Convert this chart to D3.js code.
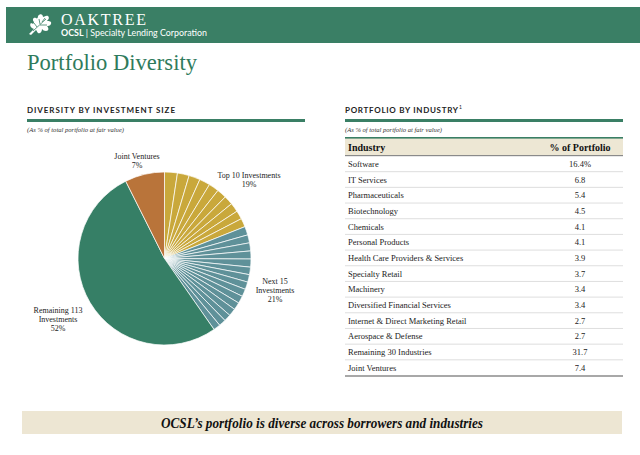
<!DOCTYPE html>
<html><head><meta charset="utf-8">
<script src="https://cdn.jsdelivr.net/npm/d3@7/dist/d3.min.js"></script>
<style>body{margin:0;background:#fff}svg{display:block}</style>
</head><body>
<svg id="c" width="640" height="455"></svg>
<script>
// ---- data ----
const sizeGroups = ["Top 10 Investments", "Next 15 Investments", "Remaining 113 Investments", "Joint Ventures"];
const groupPct = ["19%", "21%", "52%", "7%"];
const top10 = [2.4, 2.2, 2.1, 2.0, 1.9, 1.8, 1.7, 1.7, 1.6, 1.6];
const next15 = [1.6, 1.5, 1.5, 1.5, 1.5, 1.4, 1.4, 1.4, 1.4, 1.4, 1.4, 1.4, 1.3, 1.3, 1.3];
const remaining = [52.3];
const jointVentures = [7.4];
const industries = ["Software", "IT Services", "Pharmaceuticals", "Biotechnology", "Chemicals", "Personal Products",
  "Health Care Providers & Services", "Specialty Retail", "Machinery", "Diversified Financial Services",
  "Internet & Direct Marketing Retail", "Aerospace & Defense", "Remaining 30 Industries", "Joint Ventures"];
const industryPct = [16.4, 6.8, 5.4, 4.5, 4.1, 4.1, 3.9, 3.7, 3.4, 3.4, 2.7, 2.7, 31.7, 7.4];

// ---- styles ----
const green = "#3a7f65";
const serif = "'Liberation Serif','Times New Roman',serif";
const sans = "Lato,'Open Sans',sans-serif";
const groupColors = ["#c9a83b", "#5f9199", "#367f66", "#b9743a"];

const svg = d3.select("#c");

// header banner
svg.append("rect").attr("x", 6).attr("y", 7).attr("width", 634).attr("height", 36).attr("fill", green);
// oak leaf icon
const leaf = svg.append("g").attr("transform", "translate(40,25)");
leaf.append("path").attr("fill", "#fff").attr("d",
  "M-11,9 L-6,4 C-9,3 -11,0 -9,-2 C-7,-1 -6,-1 -6,-3 C-8,-5 -7,-8 -4,-7 C-3,-6 -2,-7 -2,-9 C0,-12 3,-11 3,-8 C4,-8 6,-10 8,-9 C10,-7 8,-5 7,-4 C9,-4 12,-4 11,-1 C10,1 8,1 7,1 C9,3 9,6 6,6 C4,6 3,5 2,4 C2,7 0,9 -2,8 C-3,7 -3,6 -4,5 L-9,10 Z");
leaf.append("path").attr("stroke", green).attr("stroke-width", 0.8).attr("fill", "none")
  .attr("d", "M-7,6 L6,-6 M-3,2 L-6,-2 M0,-1 L-1,-6 M2,-3 L5,-7 M0,0 L7,0");
svg.append("text").attr("x", 61).attr("y", 25).attr("fill", "#fff").attr("font-family", serif)
  .attr("font-size", 16).attr("textLength", 85).attr("lengthAdjust", "spacing").text("OAKTREE");
const sub = svg.append("text").attr("x", 61).attr("y", 36).attr("fill", "#fff").attr("font-family", sans)
  .attr("font-size", 9.3).attr("textLength", 146).attr("lengthAdjust", "spacingAndGlyphs");
sub.append("tspan").attr("font-weight", "bold").text("OCSL");
sub.append("tspan").text(" | Specialty Lending Corporation");

// title
svg.append("text").attr("x", 27).attr("y", 70).attr("fill", "#2f7b5c").attr("font-family", serif)
  .attr("font-size", 24).attr("textLength", 170).attr("lengthAdjust", "spacingAndGlyphs").text("Portfolio Diversity");

// section headers
function section(x, w, title, tlen) {
  svg.append("text").attr("x", x).attr("y", 113).attr("fill", "#222").attr("font-family", sans)
    .attr("font-size", 8).attr("font-weight", "bold").attr("textLength", tlen).attr("lengthAdjust", "spacing").text(title);
  svg.append("rect").attr("x", x).attr("y", 119).attr("width", w).attr("height", 3).attr("fill", green);
  svg.append("text").attr("x", x).attr("y", 132).attr("fill", "#333").attr("font-family", serif)
    .attr("font-size", 6.5).attr("font-style", "italic").attr("textLength", 97).attr("lengthAdjust", "spacingAndGlyphs")
    .text("(As % of total portfolio at fair value)");
}
section(27, 278, "DIVERSITY BY INVESTMENT SIZE", 148);
section(345, 278, "PORTFOLIO BY INDUSTRY", 113);
svg.append("text").attr("x", 459).attr("y", 109).attr("font-family", sans).attr("font-size", 5).attr("fill", "#222").text("1");

// ---- pie ----
const slices = [];
top10.forEach(v => slices.push({v, g: 0}));
next15.forEach(v => slices.push({v, g: 1}));
remaining.forEach(v => slices.push({v, g: 2}));
jointVentures.forEach(v => slices.push({v, g: 3}));
const pie = d3.pie().sort(null).value(d => d.v);
const arc = d3.arc().innerRadius(0).outerRadius(86.5);
const pg = svg.append("g").attr("transform", "translate(164.5,258.5)");
pg.selectAll("path").data(pie(slices)).join("path")
  .attr("d", arc).attr("fill", d => groupColors[d.data.g])
  .attr("stroke", "#fff").attr("stroke-width", 0.7).attr("stroke-linejoin", "round");

// pie labels
const pieLabels = [
  {lines: ["Top 10 Investments", groupPct[0]], x: 249, y: 178},
  {lines: ["Next 15", "Investments", groupPct[1]], x: 275, y: 284},
  {lines: ["Remaining 113", "Investments", groupPct[2]], x: 58, y: 313},
  {lines: ["Joint Ventures", groupPct[3]], x: 137, y: 159}
];
pieLabels.forEach(l => {
  const t = svg.append("text").attr("text-anchor", "middle").attr("font-family", serif)
    .attr("font-size", 8).attr("fill", "#222");
  l.lines.forEach((s, i) => t.append("tspan").attr("x", l.x).attr("y", l.y + i * 9).text(s));
});

// ---- table ----
const tx = 345, tw = 278, valX = 580;
svg.append("rect").attr("x", tx).attr("y", 138).attr("width", tw).attr("height", 17).attr("fill", "#ede7d4");
svg.append("rect").attr("x", tx).attr("y", 137).attr("width", tw).attr("height", 1.6).attr("fill", green);
svg.append("rect").attr("x", tx).attr("y", 155).attr("width", tw).attr("height", 1.2).attr("fill", "#8a8a8a");
svg.append("text").attr("x", 348).attr("y", 150.5).attr("font-family", serif).attr("font-weight", "bold")
  .attr("font-size", 10).attr("fill", "#111").text("Industry");
svg.append("text").attr("x", valX).attr("y", 150.5).attr("text-anchor", "middle").attr("font-family", serif)
  .attr("font-weight", "bold").attr("font-size", 10).attr("fill", "#111").text("% of Portfolio");

const y = d3.scaleBand().domain(industries).range([156, 375.5]);
const rows = svg.append("g").selectAll("g").data(industries).join("g")
  .attr("transform", d => `translate(0,${y(d)})`);
rows.append("text").attr("x", 348).attr("y", y.bandwidth() / 2 + 3).attr("font-family", serif)
  .attr("font-size", 8.5).attr("fill", "#222").text(d => d);
rows.append("text").attr("x", valX).attr("y", y.bandwidth() / 2 + 3).attr("text-anchor", "middle")
  .attr("font-family", serif).attr("font-size", 8.5).attr("fill", "#222")
  .text((d, i) => i === 0 ? d3.format(".1f")(industryPct[i]) + "%" : d3.format(".1f")(industryPct[i]));
rows.filter((d, i) => i < industries.length - 1).append("rect")
  .attr("x", tx).attr("y", y.bandwidth() - 0.5).attr("width", tw).attr("height", 1).attr("fill", "#dedede");
svg.append("rect").attr("x", tx).attr("y", 375).attr("width", tw).attr("height", 2).attr("fill", "#a8a8a8");

// bottom banner
svg.append("rect").attr("x", 22).attr("y", 411).attr("width", 600).attr("height", 23).attr("fill", "#ede6d3");
svg.append("text").attr("x", 322).attr("y", 428).attr("text-anchor", "middle").attr("font-family", serif)
  .attr("font-size", 14).attr("font-weight", "bold").attr("font-style", "italic").attr("fill", "#111")
  .attr("textLength", 322).attr("lengthAdjust", "spacingAndGlyphs")
  .text("OCSL’s portfolio is diverse across borrowers and industries");
</script>
</body></html>
